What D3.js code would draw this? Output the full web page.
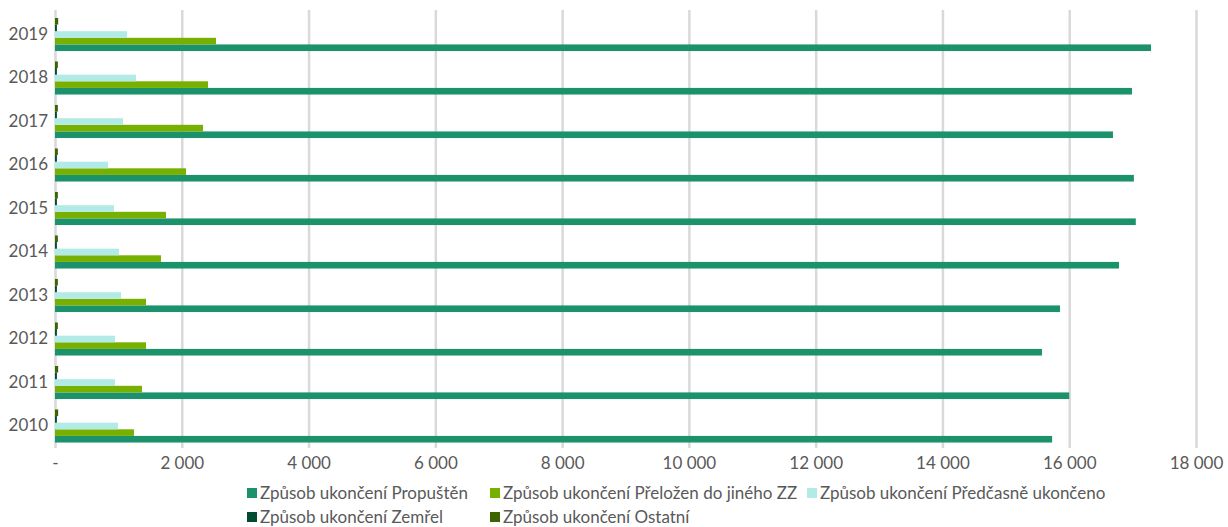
<!DOCTYPE html>
<html><head><meta charset="utf-8">
<script src="https://cdn.jsdelivr.net/npm/d3@7"></script>
<style>body{margin:0;background:#fff;font-family:Lato,"Noto Sans",sans-serif;}</style>
</head><body><svg id="c" width="1228" height="527"></svg>
<script>
const years = ["2010","2011","2012","2013","2014","2015","2016","2017","2018","2019"];
const seriesNames = ["Způsob ukončení Propuštěn","Způsob ukončení Přeložen do jiného ZZ","Způsob ukončení Předčasně ukončeno","Způsob ukončení Zemřel","Způsob ukončení Ostatní"];
const propusten = [15730,16000,15570,15855,16785,17050,17020,16690,16990,17290];
const prelozen  = [1246,1372,1436,1436,1672,1751,2067,2335,2414,2540];
const predcasne = [994,946,946,1041,1010,931,836,1073,1278,1136];
const zemrel    = [30,30,30,30,30,30,30,30,30,30];
const ostatni   = [50,50,45,45,45,45,45,45,45,50];
const xTicks = [0,2000,4000,6000,8000,10000,12000,14000,16000,18000];
const colors = ["#1b926c","#77b000","#b2ebe5","#004d33","#3d6400"];
const values = [propusten,prelozen,predcasne,zemrel,ostatni];

const svg = d3.select("#c");
const x = d3.scaleLinear().domain([0,18000]).range([55,1196]);
const y = d3.scaleBand().domain(years.slice().reverse()).range([12.75,447.75]).paddingInner(0.24).paddingOuter(0.12);
const inner = d3.scaleBand().domain(d3.range(5).reverse()).range([0,y.bandwidth()]);

const fmt = v => v===0 ? "-" : d3.format(",")(v).replace(/,/g," ");
const xa = svg.append("g").attr("transform","translate(0,448)")
  .call(d3.axisBottom(x).tickValues(xTicks).tickFormat(fmt).tickSize(-438).tickPadding(9));
xa.select(".domain").remove();
xa.selectAll(".tick line").attr("stroke","#d9d9d9").attr("stroke-width",2.5);
xa.selectAll(".tick text").attr("fill","#595959").style("font-size","17px").style("font-family","Lato,'Noto Sans',sans-serif");

const ya = svg.append("g").attr("transform","translate(55,0)")
  .call(d3.axisLeft(y).tickSize(0).tickPadding(7));
ya.select(".domain").remove();
ya.selectAll(".tick text").attr("fill","#595959").style("font-size","17px").style("font-family","Lato,'Noto Sans',sans-serif");

values.forEach((arr,si)=>{
  svg.append("g").selectAll("rect").data(arr).join("rect")
    .attr("x",x(0)).attr("y",(d,i)=>y(years[i])+inner(si))
    .attr("width",d=>x(d)-x(0)).attr("height",inner.bandwidth())
    .attr("fill",colors[si]);
});

const legPos = [[247,493],[490,493],[807,493],[247,517],[490,517]];
const lg = svg.append("g");
seriesNames.forEach((n,i)=>{
  const [lx,ly]=legPos[i];
  lg.append("rect").attr("x",lx).attr("y",ly-5).attr("width",10).attr("height",10).attr("fill",colors[i]);
  lg.append("text").attr("x",lx+13).attr("y",ly).attr("dy","0.35em").attr("fill","#595959")
    .style("font-size","17px").text(n);
});
</script></body></html>
